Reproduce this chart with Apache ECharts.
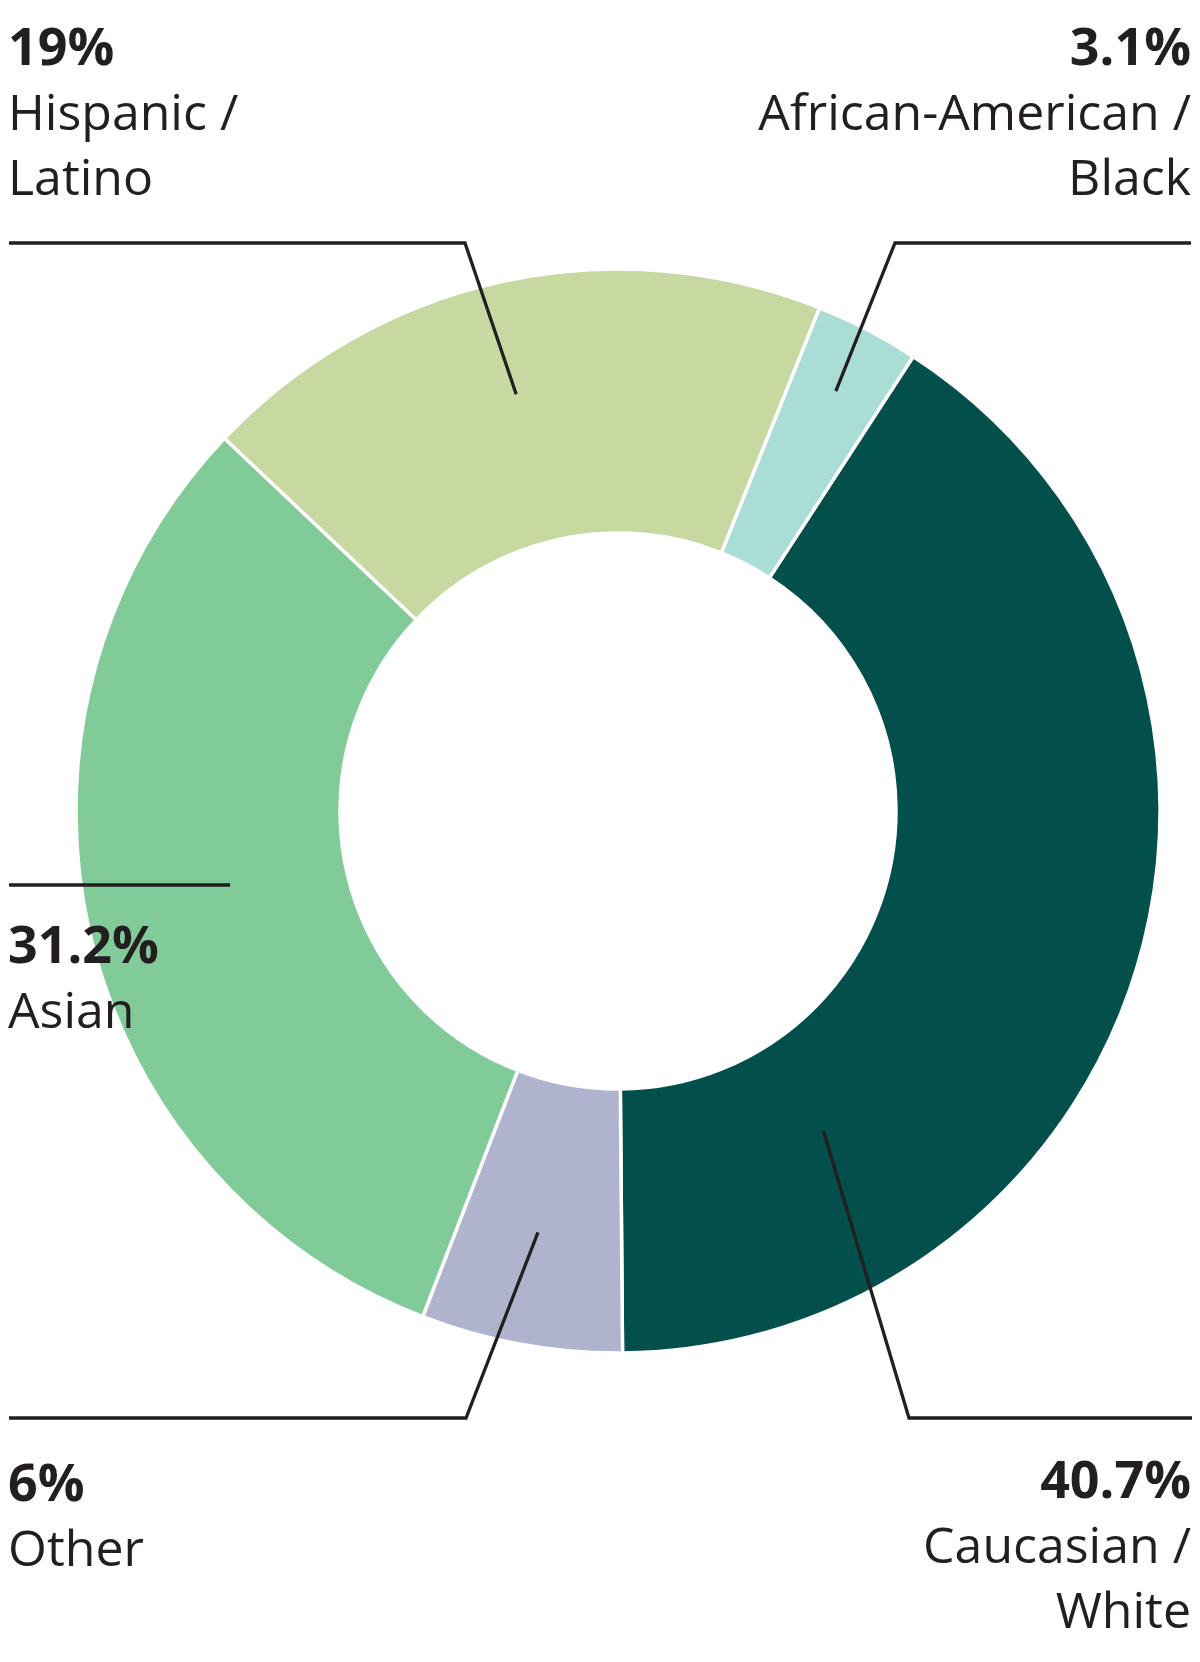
<!DOCTYPE html>
<html>
<head>
<meta charset="utf-8">
<script src="https://cdn.jsdelivr.net/npm/echarts@6/dist/echarts.min.js"></script>
<style>
html,body{margin:0;padding:0;background:#fff;}
#c{width:1200px;height:1662px;}
</style>
</head>
<body>
<div id="c"></div>
<script>
// ---- data ----
var categories = ['Caucasian /\nWhite', 'Other', 'Asian', 'Hispanic /\nLatino', 'African-American /\nBlack'];
var values = [40.7, 6, 31.2, 19, 3.1];
var percentLabels = ['40.7%', '6%', '31.2%', '19%', '3.1%'];
var colors = ['#024f4c', '#afb3ce', '#80cb98', '#c7d8a0', '#aaddd5'];

// ---- layout (positions only) ----
var CX = 618, CY = 811, START = 57;
var layoutCfg = [
  {frac: 0.78, r: 380, elbow: [909, 1418], endX: 1192, x: 1191, y: 1451, align: 'right'},
  {frac: 0.52, r: 429, elbow: [466, 1418], endX: 9, x: 8, y: 1454, align: 'left'},
  {frac: 0.51, r: 396, elbow: null, lineY: 885, endX: 9, x: 8, y: 916, align: 'left'},
  {frac: 0.48, r: 429, elbow: [465, 243], endX: 9, x: 8, y: 18, align: 'left'},
  {frac: 0.5, r: 473, elbow: [895, 243], endX: 1191, x: 1191, y: 18, align: 'right'}
];

var total = values.reduce(function (a, b) { return a + b; }, 0);
var cum = [];
(function () { var s = 0; for (var i = 0; i < values.length; i++) { cum.push(s); s += values[i]; } })();

function anchor(i) {
  var c = layoutCfg[i];
  var startCw = 90 - START;
  var ang = startCw + (cum[i] + values[i] * c.frac) / total * 360;
  var rad = ang * Math.PI / 180;
  return [CX + c.r * Math.sin(rad), CY - c.r * Math.cos(rad)];
}

var chart = echarts.init(document.getElementById('c'), null, {renderer: 'canvas'});
var ringData = categories.map(function (n, i) {
  return {name: n, value: values[i], itemStyle: {color: colors[i]}};
});
var labelData = categories.map(function (n, i) {
  return {name: n, value: values[i]};
});

var FONT = 'Open Sans';
chart.setOption({
  animation: false,
  backgroundColor: '#ffffff',
  series: [{
    type: 'pie',
    z: 2,
    center: [CX, CY],
    radius: [278, 542],
    startAngle: START,
    clockwise: true,
    silent: true,
    itemStyle: {borderColor: '#ffffff', borderWidth: 3.5},
    emphasis: {disabled: true},
    label: {show: false},
    labelLine: {show: false},
    data: ringData
  }, {
    type: 'pie',
    z: 5,
    center: [CX, CY],
    radius: [278, 542],
    startAngle: START,
    clockwise: true,
    silent: true,
    avoidLabelOverlap: false,
    itemStyle: {color: 'rgba(0,0,0,0)', borderWidth: 0},
    emphasis: {disabled: true},
    data: labelData,
    label: {
      show: true,
      position: 'outside',
      formatter: function (p) {
        var lines = p.name.split('\n').map(function (s) { return '{n|' + s + '}'; });
        return '{p|' + percentLabels[p.dataIndex] + '}\n' + lines.join('\n');
      },
      rich: {
        p: {fontFamily: FONT, fontWeight: 'bold', fontSize: 52, lineHeight: 65, color: '#231f20'},
        n: {fontFamily: FONT, fontWeight: 'normal', fontSize: 50, lineHeight: 65, color: '#231f20'}
      }
    },
    labelLine: {
      show: true,
      showAbove: true,
      lineStyle: {color: '#231f20', width: 3.3}
    },
    labelLayout: function (params) {
      var i = params.dataIndex;
      var c = layoutCfg[i];
      var a = anchor(i);
      var pts;
      if (c.elbow) {
        pts = [a, c.elbow, [c.endX, c.elbow[1]]];
      } else {
        pts = [[a[0], c.lineY], [(a[0] + c.endX) / 2, c.lineY], [c.endX, c.lineY]];
      }
      return {
        x: c.x, y: c.y, align: c.align, verticalAlign: 'top',
        labelLinePoints: pts
      };
    }
  }]
});
</script>
</body>
</html>
